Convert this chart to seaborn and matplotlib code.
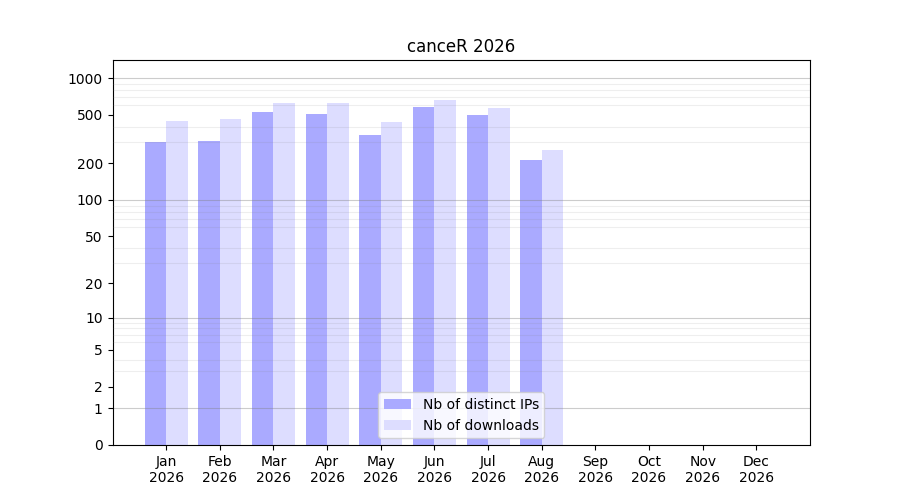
import numpy as np
import pandas as pd
import seaborn as sns
import matplotlib
matplotlib.use("Agg")
import matplotlib.pyplot as plt
from matplotlib.ticker import FixedLocator, NullFormatter

# data
months = ['Jan', 'Feb', 'Mar', 'Apr', 'May', 'Jun',
          'Jul', 'Aug', 'Sep', 'Oct', 'Nov', 'Dec']
year = 2026
nb_ips = [298, 307, 530, 511, 344, 583, 501, 214]
nb_downloads = [448, 465, 628, 628, 439, 665, 572, 259]
ytick_values = [0, 1, 2, 5, 10, 20, 50, 100, 200, 500, 1000]

# tableau long pour seaborn
n = len(nb_ips)
df = pd.DataFrame({
    'month': months[:n] * 2,
    'value': nb_ips + nb_downloads,
    'serie': ['Nb of distinct IPs'] * n + ['Nb of downloads'] * n,
})

fig, ax = plt.subplots(figsize=(9, 5), dpi=100)

# echelle log10(1 + x)
ax.set_yscale('function', functions=(lambda v: np.log10(1 + np.clip(v, 0, None)),
                                     lambda v: 10 ** v - 1))

sns.barplot(data=df, x='month', y='value', hue='serie', order=months,
            palette=['#aaaaff', '#ddddff'], width=0.8, saturation=1,
            errorbar=None, ax=ax)

ax.set_xlim(-1, 12)
ax.set_ylim(0, 1409)
ax.set_xticks(range(len(months)))
ax.set_xticklabels([f"{m}\n{year}" for m in months])

ax.yaxis.set_major_locator(FixedLocator(ytick_values))
ax.set_yticklabels([str(v) for v in ytick_values])
minor = [k * 10 ** e for e in range(3) for k in range(2, 10)]
ax.yaxis.set_minor_locator(FixedLocator(minor))
ax.yaxis.set_minor_formatter(NullFormatter())
ax.tick_params(axis='y', which='minor', length=0)

# grille au-dessus des barres
ax.set_axisbelow(False)
ax.grid(False)
ax.yaxis.grid(True, which='minor', color='gray', alpha=0.13, linewidth=0.8)
for v in [1, 10, 100, 1000]:
    ax.axhline(v, color='gray', alpha=0.4, linewidth=0.8)

ax.set_xlabel('')
ax.set_ylabel('')
ax.set_title(f'canceR {year}')

handles, labels = ax.get_legend_handles_labels()
ax.legend(handles, labels, loc='lower center')

fig.savefig('out.png')
